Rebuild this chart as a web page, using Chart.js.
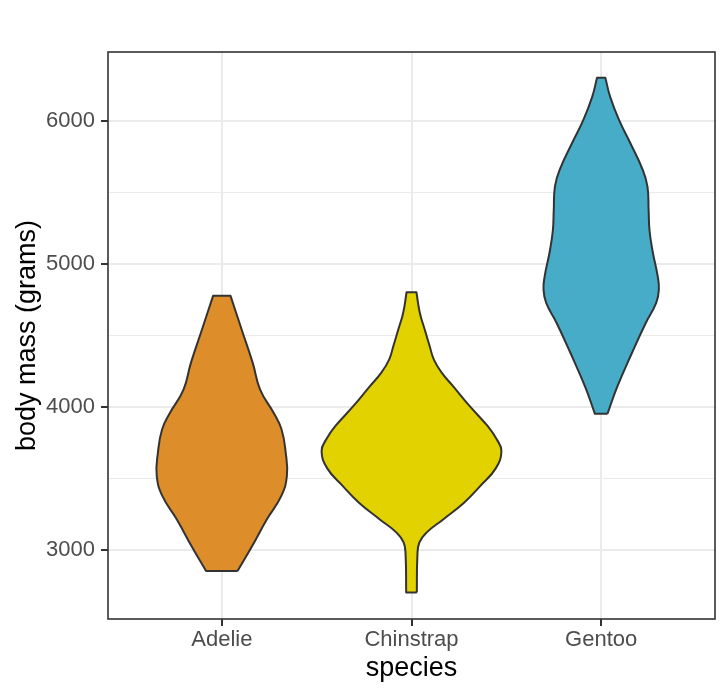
<!DOCTYPE html>
<html>
<head>
<meta charset="utf-8">
<title>body mass by species</title>
<script src="https://cdn.jsdelivr.net/npm/chart.js@4.4.1/dist/chart.umd.min.js"></script>
<style>
  html, body { margin: 0; padding: 0; background: #ffffff; }
  #wrap { width: 728px; height: 698px; }
</style>
</head>
<body>
<div id="wrap"><canvas id="violins" width="728" height="698"></canvas></div>
<script>
// categories on the x axis
const species = ["Adelie", "Chinstrap", "Gentoo"];
const fills = ["#DD8D29", "#E2D200", "#46ACC8"];

// violin outlines: body mass (g) and half width (x units)
const adelieMass  = [2850, 3025, 3211, 3374, 3514, 3677, 3840, 3957, 4119, 4306, 4538, 4775];
const adelieWidth = [0.083, 0.160, 0.237, 0.313, 0.343, 0.337, 0.315, 0.273, 0.202, 0.163, 0.105, 0.046];

const chinstrapMass  = [2700, 2955, 3049, 3119, 3211, 3328, 3444, 3570, 3689, 3770, 3863, 4003, 4142, 4236, 4329, 4422, 4538, 4655, 4800];
const chinstrapWidth = [0.028, 0.031, 0.041, 0.079, 0.167, 0.277, 0.362, 0.445, 0.474, 0.450, 0.402, 0.307, 0.220, 0.160, 0.118, 0.096, 0.070, 0.044, 0.026];

const gentooMass  = [3950, 4143, 4375, 4585, 4725, 4818, 4911, 5080, 5230, 5376, 5539, 5656, 5842, 6005, 6168, 6300];
const gentooWidth = [0.033, 0.086, 0.162, 0.235, 0.290, 0.304, 0.298, 0.272, 0.255, 0.250, 0.244, 0.219, 0.154, 0.094, 0.047, 0.022];

// axis ticks
const xTicks = [1, 2, 3];
const yTicks = [3000, 3500, 4000, 4500, 5000, 5500, 6000];

// closed outline: up the right side, down the left side; corners doubled so the flat ends stay sharp
function outline(center, mass, width) {
  const right = mass.map((m, i) => ({ x: center + width[i], y: m }));
  const left = mass.map((m, i) => ({ x: center - width[i], y: m })).reverse();
  const pts = [right[0]].concat(right, [right[right.length - 1]], [left[0]], left, [left[left.length - 1]], [right[0]]);
  return pts;
}

const shapes = [
  outline(1, adelieMass, adelieWidth),
  outline(2, chinstrapMass, chinstrapWidth),
  outline(3, gentooMass, gentooWidth)
];

const panelBorder = {
  id: "panelBorder",
  afterDraw(chart) {
    const a = chart.chartArea;
    const ctx = chart.ctx;
    ctx.save();
    ctx.strokeStyle = "#333333";
    ctx.lineWidth = 1.6;
    ctx.strokeRect(a.left, a.top, a.right - a.left, a.bottom - a.top);
    ctx.restore();
  }
};

const font = "'Liberation Sans', Arial, Helvetica, sans-serif";

const config = {
  type: "scatter",
  data: {
    datasets: shapes.map((pts, i) => ({
      label: species[i],
      data: pts,
      showLine: true,
      fill: "shape",
      backgroundColor: fills[i],
      borderColor: "#333333",
      borderWidth: 2,
      borderJoinStyle: "round",
      tension: 0.45,
      pointRadius: 0,
      pointHoverRadius: 0
    }))
  },
  options: {
    responsive: false,
    animation: false,
    events: [],
    layout: { padding: { top: 52, right: 13, left: 0, bottom: 0 } },
    plugins: {
      legend: { display: false },
      tooltip: { enabled: false }
    },
    scales: {
      x: {
        type: "linear",
        min: 0.4,
        max: 3.6,
        afterBuildTicks: (scale) => { scale.ticks = xTicks.map(v => ({ value: v })); },
        afterFit: (scale) => { scale.height = 79; },
        border: { display: false },
        grid: {
          color: "#EBEBEB",
          lineWidth: 2,
          tickLength: 7,
          tickColor: "#333333",
          tickWidth: 2
        },
        ticks: {
          autoSkip: false,
          maxRotation: 0,
          padding: 1,
          color: "#4D4D4D",
          font: { family: font, size: 22 },
          callback: (v) => species[v - 1]
        },
        title: {
          display: true,
          text: "species",
          color: "#000000",
          font: { family: font, size: 27 },
          padding: { top: 0, bottom: 13 }
        }
      },
      y: {
        type: "linear",
        min: 2515,
        max: 6480,
        afterBuildTicks: (scale) => { scale.ticks = yTicks.map(v => ({ value: v })); },
        afterFit: (scale) => { scale.width = 108; },
        border: { display: false },
        grid: {
          color: "#EBEBEB",
          lineWidth: (c) => (c.tick && c.tick.value % 1000 === 0 ? 2 : 1),
          tickLength: 7,
          tickColor: (c) => (c.tick && c.tick.value % 1000 === 0 ? "#333333" : "rgba(0,0,0,0)"),
          tickWidth: 2
        },
        ticks: {
          padding: 6,
          color: "#4D4D4D",
          font: { family: font, size: 22 },
          callback: (v) => (v % 1000 === 0 ? String(v) : "")
        },
        title: {
          display: true,
          text: "body mass (grams)",
          color: "#000000",
          font: { family: font, size: 27 },
          padding: { top: 11, bottom: 0 }
        }
      }
    }
  },
  plugins: [panelBorder]
};

const chart = new Chart(document.getElementById("violins"), config);
</script>
</body>
</html>
